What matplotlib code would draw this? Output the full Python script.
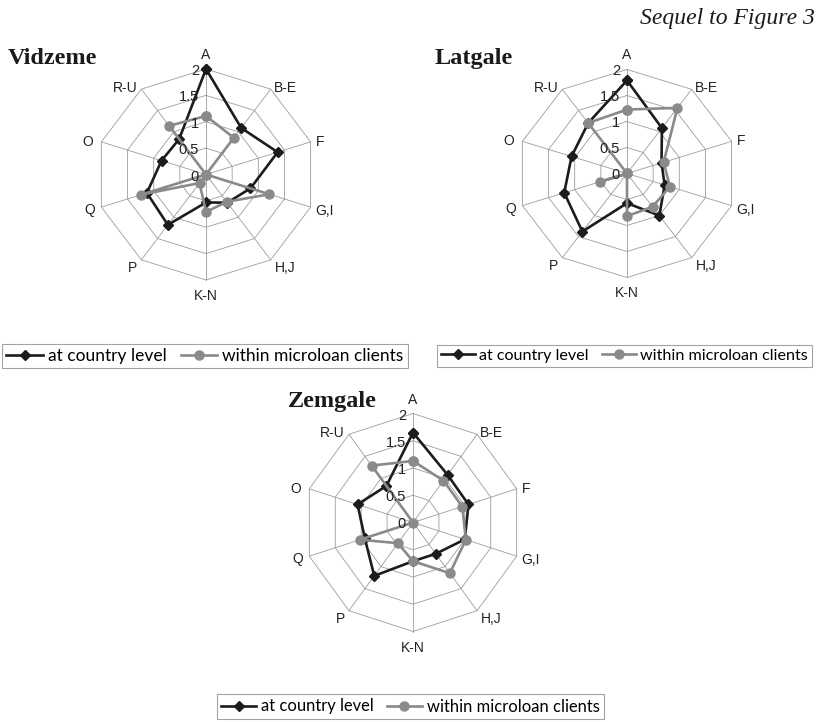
import numpy as np
import matplotlib.pyplot as plt
from matplotlib.lines import Line2D

# ---------------------------------------------------------------
# data
# ---------------------------------------------------------------
categories = ['A', 'B-E', 'F', 'G,I', 'H,J', 'K-N', 'P', 'Q', 'O', 'R-U']
r_ticks = [0, 0.5, 1, 1.5, 2]
r_tick_labels = ['0', '0.5', '1', '1.5', '2']

vidzeme_country = [2.0, 1.09, 1.37, 0.85, 0.66, 0.53, 1.18, 1.13, 0.85, 0.83]
vidzeme_micro = [1.11, 0.86, 0.0, 1.21, 0.64, 0.71, 0.20, 1.24, 0.0, 1.14]
latgale_country = [1.79, 1.08, 0.66, 0.72, 1.00, 0.57, 1.38, 1.20, 1.06, 1.20]
latgale_micro = [1.23, 1.56, 0.70, 0.82, 0.79, 0.82, 0.0, 0.51, 0.0, 1.20]
zemgale_country = [1.65, 1.08, 1.07, 1.00, 0.71, 0.71, 1.21, 0.93, 1.07, 0.83]
zemgale_micro = [1.13, 0.95, 0.95, 1.02, 1.15, 0.71, 0.47, 1.02, 0.0, 1.29]

series_names = ['at country level', 'within microloan clients']

# ---------------------------------------------------------------
# styles
# ---------------------------------------------------------------
W, H = 819, 722
BLACK = '#1c1c1c'
GRAY = '#8a8a8a'
GRID = '#9c9c9c'
SANS = 'Liberation Sans'
SERIF = 'Liberation Serif'

# label offsets in pixels (dx, dy, ha, va) per category
label_pos = {
    'A': (0, 7, 'center', 'bottom'),
    'B-E': (3, 1, 'left', 'center'),
    'F': (5, 0, 'left', 'center'),
    'G,I': (5, -4, 'left', 'center'),
    'H,J': (4, -1, 'left', 'top'),
    'K-N': (0, -9, 'center', 'top'),
    'P': (-4, -1, 'right', 'top'),
    'Q': (-6, -3, 'right', 'center'),
    'O': (-8, 0, 'right', 'center'),
    'R-U': (-4, 1, 'right', 'center'),
}

fig = plt.figure(figsize=(W / 100, H / 100), dpi=100)
fig.patch.set_facecolor('white')

angles = np.linspace(0, 2 * np.pi, len(categories), endpoint=False)
closed = np.append(angles, angles[0])


def radar(cx, cy, rx, ry, country, micro):
    ax = fig.add_axes([(cx - rx) / W, 1 - (cy + ry) / H, 2 * rx / W, 2 * ry / H],
                      projection='polar')
    ax.set_aspect('auto')
    ax.set_theta_zero_location('N')
    ax.set_theta_direction(-1)
    ax.set_ylim(0, 2)
    ax.set_xticks([])
    ax.set_yticks([])
    ax.grid(False)
    ax.spines['polar'].set_visible(False)
    ax.patch.set_alpha(0)

    # decagon grid
    for r in r_ticks[1:]:
        ax.plot(closed, [r] * len(closed), color=GRID, lw=0.6, clip_on=False, zorder=1)
    for a in angles:
        ax.plot([a, a], [0, 2], color=GRID, lw=0.6, clip_on=False, zorder=1)

    # series
    ax.plot(closed, country + country[:1], color=BLACK, lw=1.9, marker='D', ms=5.5,
            mfc=BLACK, mec=BLACK, clip_on=False, zorder=3)
    ax.plot(closed, micro + micro[:1], color=GRAY, lw=1.9, marker='o', ms=6.5,
            mfc=GRAY, mec=GRAY, clip_on=False, zorder=4)

    # category labels
    for a, cat in zip(angles, categories):
        dx, dy, ha, va = label_pos[cat]
        ax.annotate(cat, xy=(a, 2), xytext=(dx, dy), textcoords='offset pixels',
                    ha=ha, va=va, fontsize=10, family=SANS, color='#222222',
                    annotation_clip=False)

    # radial tick labels
    for r, lab in zip(r_ticks, r_tick_labels):
        ax.annotate(lab, xy=(0, r), xytext=(-7, -2), textcoords='offset pixels',
                    ha='right', va='center', fontsize=10.5, family=SANS,
                    color='#222222', annotation_clip=False, zorder=5)
    return ax


radar(206, 174.5, 110, 105.5, vidzeme_country, vidzeme_micro)
radar(627, 173.5, 110, 104, latgale_country, latgale_micro)
radar(413, 522.5, 109, 109, zemgale_country, zemgale_micro)

# titles
fig.text(8 / W, 1 - 64 / H, 'Vidzeme', family=SERIF, fontweight='bold',
         fontsize=17.5, va='baseline', ha='left', color='#1a1a1a')
fig.text(435 / W, 1 - 64 / H, 'Latgale', family=SERIF, fontweight='bold',
         fontsize=17.5, va='baseline', ha='left', color='#1a1a1a')
fig.text(288 / W, 1 - 407 / H, 'Zemgale', family=SERIF, fontweight='bold',
         fontsize=17.5, va='baseline', ha='left', color='#1a1a1a')
fig.text(815 / W, 1 - 24 / H, 'Sequel to Figure 3', family=SERIF, style='italic',
         fontsize=17, va='baseline', ha='right', color='#1a1a1a')

# legends (x centre, y centre, font size)
handles = [
    Line2D([], [], color=BLACK, lw=1.9, marker='D', ms=5.5, mfc=BLACK, mec=BLACK),
    Line2D([], [], color=GRAY, lw=1.9, marker='o', ms=6.5, mfc=GRAY, mec=GRAY),
]
for lx, ly, fs in [(205, 356, 12.5), (624.5, 356, 11.6), (410.5, 706.5, 11.9)]:
    leg = fig.legend(handles, series_names, loc='center',
                     bbox_to_anchor=(lx / W, 1 - ly / H), ncol=2,
                     prop={'family': 'Lato', 'size': fs},
                     frameon=True, fancybox=False, edgecolor='#8c8c8c',
                     borderpad=0.25, handlelength=2.1, handletextpad=0.3,
                     columnspacing=0.8, borderaxespad=0)
    leg.get_frame().set_linewidth(0.8)

fig.savefig('out.png', dpi=100, facecolor='white')
